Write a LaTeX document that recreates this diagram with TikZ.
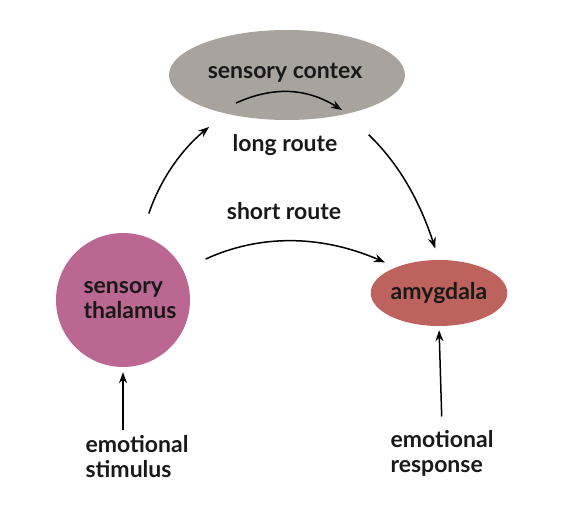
\documentclass[tikz,border=0pt]{standalone}
\usepackage{fontspec}
\setmainfont{Lato}
\usetikzlibrary{arrows.meta,shapes.geometric}
\definecolor{cortexgray}{RGB}{168,163,157}
\definecolor{thalpink}{RGB}{186,103,146}
\definecolor{amygred}{RGB}{190,98,94}
\tikzset{
  txt/.style={font=\fontsize{23}{25}\selectfont\bfseries, text=black!90},
  route/.style={line width=1.5pt, -{Stealth[length=11pt,width=8pt]}}
}
\begin{document}
\begin{tikzpicture}[x=1pt,y=-1pt]
  \useasboundingbox (0,0) rectangle (574,508);
  % the three regions
  \node[ellipse, fill=cortexgray, minimum width=236pt, minimum height=90pt, inner sep=0pt] (cortex) at (287,75) {};
  \node[txt] (cortexlbl) at (285,73) {sensory contex};
  \node[circle, fill=thalpink, minimum size=134pt, inner sep=0pt] (thal) at (123,300) {};
  \node[txt, align=left] (thallbl) at (130,300) {sensory\\thalamus};
  \node[txt, ellipse, fill=amygred, minimum width=124pt, minimum height=66pt, inner sep=0pt] (amyg) at (439,293) {amygdala};
  % labels
  \node[txt] (long) at (285,145) {long route};
  \node[txt] (short) at (284,211) {short route};
  \node[txt, align=left] (stim) at (137,457) {emotional\\stimulus};
  \node[txt, align=left] (resp) at (442,453) {emotional\\response};
  % routes
  \coordinate (ia) at (236,103);
  \coordinate (ib) at (342,110);
  \draw[route] (ia) to[bend left=28] (ib);
  \draw[route, shorten <=23pt, shorten >=21pt] (thal.74) to[bend left=16] (cortex.212);
  \draw[route, shorten <=30pt, shorten >=12pt] (cortex.-33) to[bend left=14] (amyg.north);
  \draw[route, shorten <=25pt, shorten >=12pt] (thal.27) to[bend left=24] (amyg.149);
  \draw[route, shorten <=2pt, shorten >=5pt] (stim.north -| thal) -- (thal.south);
  \draw[route, shorten <=10pt, shorten >=4pt] (resp.north) -- (amyg.south);
\end{tikzpicture}
\end{document}
